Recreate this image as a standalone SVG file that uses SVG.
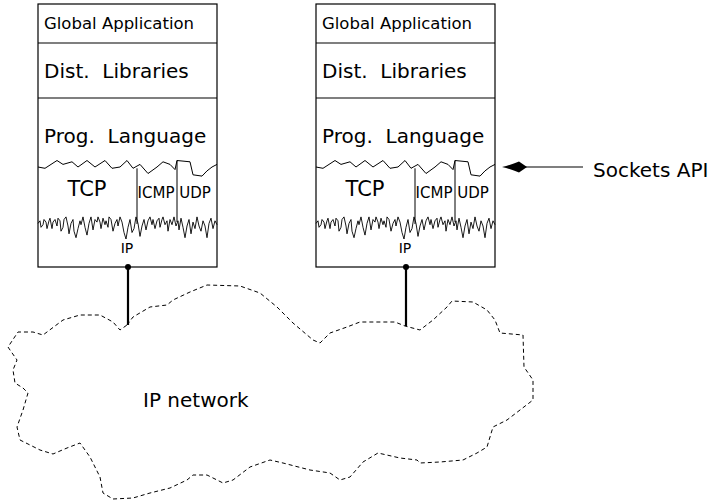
<svg xmlns="http://www.w3.org/2000/svg" width="713" height="501" viewBox="0 0 713 501">
  <style>
    .frame { fill: none; stroke: #000; stroke-width: 1.2; }
    .thin { fill: none; stroke: #000; stroke-width: 1; stroke-linejoin: miter; }
    .jag { fill: none; stroke: #000; stroke-width: 0.9; stroke-linejoin: miter; }
    .lbl { font-family: "DejaVu Sans", "Liberation Sans", sans-serif; fill: #000; }
    .mid { text-anchor: middle; }
    .wire { stroke: #000; stroke-width: 2.2; }
    .cloud { fill: none; stroke: #000; stroke-width: 1; stroke-dasharray: 4 3; stroke-linejoin: round; }
  </style>
  <defs>
    <!-- one host protocol stack, drawn at origin x=38 -->
    <g id="stack">
      <rect class="frame" x="38" y="4" width="179" height="263"/>
      <line class="frame" x1="38" y1="43" x2="217" y2="43"/>
      <line class="frame" x1="38" y1="98" x2="217" y2="98"/>
      <!-- torn edge below the language layer -->
      <polyline class="thin" vector-effect="non-scaling-stroke" transform="translate(0,167) scale(1,1.3) translate(0,-167)" points="38,167 45,168 57,162 63,165 72,163 78,167 87,162 95,167 105,162 112,168 120,167 127,162 133,168 140,165 148,172 157,167 163,163 170,165 175,169 177,162 190,163 193,173 202,174 207,170 212,167 217,165"/>
      <!-- transport column dividers -->
      <line class="thin" x1="137" y1="168.3" x2="137" y2="224"/>
      <line class="thin" x1="177" y1="160.5" x2="177" y2="222"/>
      <!-- rough edge above IP -->
      <polyline class="jag" vector-effect="non-scaling-stroke" transform="translate(0,226) scale(1,1.3) translate(0,-226)" points="38,224 40,222 41,227 43,225 44,221 46,223 47,228 49,222 50,220 52,228 53,223 55,221 57,226 58,220 60,222 61,230 63,227 64,221 66,219 68,226 69,232 71,224 73,221 74,230 76,235 78,228 80,222 81,225 83,219 85,227 87,233 89,224 91,219 93,229 95,221 97,223 98,219 100,223 101,228 103,220 105,225 106,222 108,227 109,219 111,221 113,230 115,224 117,221 118,226 120,219 122,223 124,231 126,236 128,227 130,221 132,231 134,228 136,219 138,224 140,234 142,226 144,221 146,229 148,222 150,219 152,225 153,221 155,228 157,222 159,220 160,227 162,221 163,219 165,225 167,222 168,230 170,221 172,225 174,219 176,226 178,222 179,229 181,220 183,227 185,235 187,226 189,221 191,232 193,223 195,228 197,219 199,226 201,230 203,222 205,226 207,235 209,224 211,220 213,228 215,222 217,225"/>
    </g>
  </defs>

  <g id="host-left">
    <use href="#stack"/>
    <text class="lbl" x="44" y="29" font-size="16.5">Global Application</text>
    <text class="lbl" x="44" y="78" font-size="20" xml:space="preserve">Dist.  Libraries</text>
    <text class="lbl" x="44" y="143" font-size="20" xml:space="preserve">Prog.  Language</text>
    <text class="lbl mid" x="87" y="196" font-size="21">TCP</text>
    <text class="lbl mid" x="156" y="198" font-size="15">ICMP</text>
    <text class="lbl mid" x="195" y="198" font-size="15">UDP</text>
    <text class="lbl mid" x="127" y="253" font-size="14">IP</text>
  </g>

  <g id="host-right">
    <use href="#stack" x="278"/>
    <text class="lbl" x="322" y="29" font-size="16.5">Global Application</text>
    <text class="lbl" x="322" y="78" font-size="20" xml:space="preserve">Dist.  Libraries</text>
    <text class="lbl" x="322" y="143" font-size="20" xml:space="preserve">Prog.  Language</text>
    <text class="lbl mid" x="365" y="196" font-size="21">TCP</text>
    <text class="lbl mid" x="434" y="198" font-size="15">ICMP</text>
    <text class="lbl mid" x="473" y="198" font-size="15">UDP</text>
    <text class="lbl mid" x="405" y="253" font-size="14">IP</text>
  </g>

  <g id="ip-network">
    <polygon class="cloud" points="127,325 133,317 150,307 167,305 173,300 190,292 207,285 240,286 260,293 277,307 293,323 313,340 320,343 330,333 347,327 360,322 395,322 405,326 420,330 433,320 447,307 452,301 473,302 487,310 495,320 500,333 523,335 524,367 533,380 533,400 520,410 507,420 493,427 487,447 477,453 463,460 440,462 420,463 417,460 400,458 378,453 363,462 350,477 340,480 330,473 310,470 283,463 270,460 250,467 233,480 223,483 207,475 193,475 187,480 170,488 150,493 133,498 113,499 103,493 100,477 90,457 80,443 67,448 53,454 40,450 20,440 17,427 23,410 28,393 23,388 15,383 13,370 17,360 10,350 8,347 18,332 33,332 43,335 63,320 80,315 100,315 113,322 120,330"/>
    <text class="lbl" x="143" y="407" font-size="20">IP network</text>
  </g>

  <g id="sockets-api">
    <text class="lbl" x="593" y="177" font-size="20">Sockets API</text>
  </g>

  <g id="connectors">
    <line class="wire" x1="128" y1="267" x2="128" y2="325"/>
    <circle cx="128" cy="267" r="3"/>
    <line class="wire" x1="406" y1="267" x2="406" y2="326"/>
    <circle cx="406" cy="267" r="3"/>
    <line x1="520" y1="167" x2="583" y2="167" stroke="#000" stroke-width="1.2"/>
    <path d="M502,167 Q512,164.5 519,161.5 L527,167 L519,172.5 Q512,169.5 502,167 Z" fill="#000"/>
  </g>
</svg>
